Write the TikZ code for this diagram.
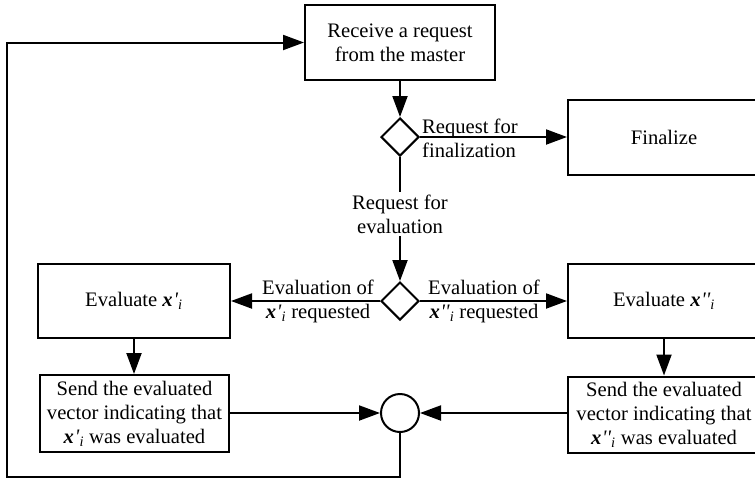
\documentclass[tikz,border=0pt]{standalone}
\usepackage{fontspec}
\setmainfont{Liberation Serif}
\usetikzlibrary{arrows.meta,shapes.geometric}
\newcommand{\xone}{\textbf{\textit{x}}\kern0.8pt\textit{\textquotesingle}\textsubscript{\textit{i}}}
\newcommand{\xtwo}{\textbf{\textit{x}}\kern0.8pt\textit{\textquotesingle\textquotesingle}\textsubscript{\textit{i}}}
\tikzset{
  box/.style={draw, line width=2pt, rectangle, align=center, inner sep=0pt},
  dia/.style={draw, line width=2pt, diamond, aspect=1, minimum width=38pt, minimum height=38pt, inner sep=0pt},
  mergecirc/.style={draw, line width=2pt, circle, minimum size=38pt, inner sep=0pt},
  conn/.style={line width=2pt},
  arr/.style={conn, -{Triangle[length=21pt,width=15pt]}},
  lbl/.style={align=center, inner sep=1pt},
}
\begin{document}
\begin{tikzpicture}[x=1pt,y=-1pt,font=\fontsize{20.6}{24}\selectfont]
\useasboundingbox (0,0) rectangle (755,480);
\node[box, minimum width=190pt, minimum height=75pt] (top) at (400,42.5) {Receive a request\\from the master};
\node[dia] (d1) at (400,137) {};
\node[box, minimum width=192pt, minimum height=75pt] (fin) at (664,137) {Finalize};
\node[dia] (d2) at (400,301) {};
\node[box, minimum width=192pt, minimum height=74pt] (evL) at (134,301) {Evaluate \xone};
\node[box, minimum width=192pt, minimum height=74pt] (evR) at (664,301) {Evaluate \xtwo};
\node[box, minimum width=189pt, minimum height=77pt] (sendL) at (134.5,413.5) {Send the evaluated\\vector indicating that\\\xone{} was evaluated};
\node[box, minimum width=192pt, minimum height=76pt] (sendR) at (664,414.5) {Send the evaluated\\vector indicating that\\\xtwo{} was evaluated};
\node[mergecirc] (circ) at (400,413) {};
\coordinate (c1) at (400,477);
\coordinate (c2) at (7,477);

\draw[arr] (top.south) -- (d1.north);
\draw[arr] (d1.east) -- (d1.east -| fin.west);
\node[lbl, anchor=west, align=left] (lf) at (421,138) {Request for\\finalization};
\draw[arr] (d1.south) -- (d2.north) node[pos=0.46, fill=white, lbl, inner sep=3pt] (le) {Request for\\evaluation};
\draw[arr] (d2.west) -- (d2.west -| evL.east);
\draw[arr] (d2.east) -- (d2.east -| evR.west);
\node[lbl] (ll) at (318,301) {Evaluation of\\\xone{} requested};
\node[lbl] (lr) at (484,301) {Evaluation of\\\xtwo{} requested};
\draw[arr] (evL.south) -- (evL.south |- sendL.north);
\draw[arr] (evR.south) -- (evR.south |- sendR.north);
\draw[arr] (sendL.east |- circ.west) -- (circ.west);
\draw[arr] (sendR.west |- circ.east) -- (circ.east);
\draw[arr] (circ.south) -- (c1) -- (c2) |- (top.west);
\end{tikzpicture}
\end{document}
